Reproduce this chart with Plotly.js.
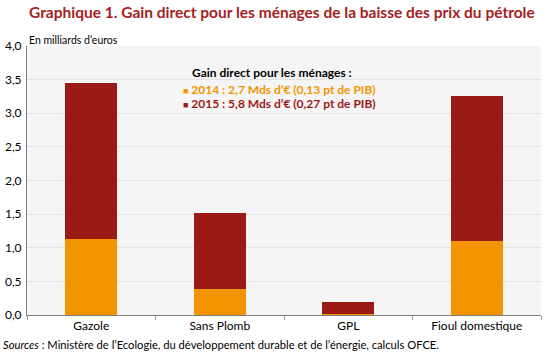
<!DOCTYPE html>
<html>
<head>
<meta charset="utf-8">
<script src="https://cdn.plot.ly/plotly-3.0.1.min.js"></script>
<style>html,body{margin:0;padding:0;background:#fff}#chart{width:550px;height:353px}</style>
</head>
<body>
<div id="chart"></div>
<script>
const categories = ["Gazole", "Sans Plomb", "GPL", "Fioul domestique"];
const gain2014 = [1.13, 0.38, 0.02, 1.10];
const gain2015 = [2.32, 1.14, 0.17, 2.16];
const yTicks = [0, 0.5, 1, 1.5, 2, 2.5, 3, 3.5, 4];

const orange = "#F29400";
const darkRed = "#9B1A16";
const font = "Lato, 'Open Sans', sans-serif";

const traces = [
  {type: "bar", x: categories, y: gain2014, name: "2014", marker: {color: orange, line: {width: 0}}, hoverinfo: "none"},
  {type: "bar", x: categories, y: gain2015, name: "2015", marker: {color: darkRed, line: {width: 0}}, hoverinfo: "none"}
];

const layout = {
  width: 550, height: 353,
  margin: {l: 27, r: 9, t: 46, b: 38},
  barmode: "stack",
  bargap: 0.595,
  showlegend: false,
  separators: ", ",
  paper_bgcolor: "#ffffff",
  plot_bgcolor: "#f5f5f5",
  font: {family: font, size: 12, color: "#000"},
  xaxis: {
    showline: true, linecolor: "#7f7f7f", linewidth: 1,
    ticks: "outside", tickson: "boundaries", ticklen: 4, tickcolor: "#999",
    tickfont: {size: 12, color: "#000"}, showgrid: false, fixedrange: true
  },
  yaxis: {
    range: [0, 4], tickvals: yTicks, tickformat: ".1f",
    showline: true, linecolor: "#7f7f7f", linewidth: 1,
    gridcolor: "#e4e4e4", gridwidth: 1, zeroline: false,
    tickfont: {size: 12, color: "#000"}, ticks: "", ticklabelstandoff: 2, fixedrange: true
  },
  annotations: [
    {xref: "paper", yref: "paper", x: 0, y: 1.126, xanchor: "left", yanchor: "middle",
     text: "<b>Graphique 1. Gain direct pour les ménages de la baisse des prix du pétrole</b>",
     showarrow: false, font: {family: font, size: 15.5, color: "#A51E22"}},
    {xref: "paper", yref: "paper", x: 0, y: 1.024, xanchor: "left", yanchor: "middle",
     text: "En milliards d’euros", showarrow: false, font: {family: font, size: 10.5, color: "#000"}},
    {xref: "paper", yref: "paper", x: 0.32, y: 0.90, xanchor: "left", yanchor: "middle", borderpad: 0,
     text: "<b>Gain direct pour les ménages :</b>", showarrow: false, font: {family: font, size: 12, color: "#000"}},
    {xref: "paper", yref: "paper", x: 0.302, y: 0.838, xanchor: "left", yanchor: "middle", borderpad: 0,
     text: "<b><span style='font-size:9px'>■</span> 2014 : 2,7 Mds d’€ (0,13 pt de PIB)</b>", showarrow: false, font: {family: font, size: 12, color: orange}},
    {xref: "paper", yref: "paper", x: 0.302, y: 0.786, xanchor: "left", yanchor: "middle", borderpad: 0,
     text: "<b><span style='font-size:9px'>■</span> 2015 : 5,8 Mds d’€ (0,27 pt de PIB)</b>", showarrow: false, font: {family: font, size: 12, color: darkRed}},
    {xref: "paper", yref: "paper", x: -0.05, y: -0.11, xanchor: "left", yanchor: "middle",
     text: "<i>Sources</i> : Ministère de l’Ecologie, du développement durable et de l’énergie, calculs OFCE.",
     showarrow: false, font: {family: font, size: 11.2, color: "#000"}}
  ]
};

Plotly.newPlot("chart", traces, layout, {displayModeBar: false, staticPlot: true});
</script>
</body>
</html>
